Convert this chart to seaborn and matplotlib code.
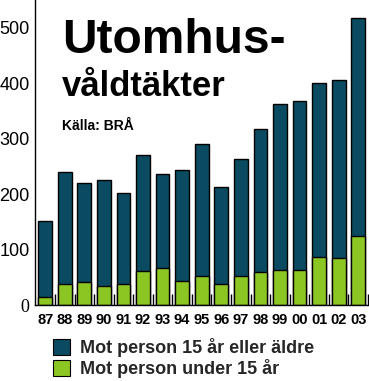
import matplotlib
matplotlib.use("Agg")
import matplotlib.pyplot as plt
from matplotlib.patches import Patch
import seaborn as sns
import pandas as pd
import numpy as np

# data
years = ["87", "88", "89", "90", "91", "92", "93", "94", "95",
         "96", "97", "98", "99", "00", "01", "02", "03"]
total = [151, 239, 220, 226, 202, 271, 237, 244, 290,
         212, 264, 318, 362, 367, 401, 405, 518]
under15 = [14, 37, 41, 35, 37, 61, 66, 44, 52,
           37, 52, 59, 64, 64, 86, 84, 124]
labels = ["Mot person 15 år eller äldre", "Mot person under 15 år"]

dark = "#0b4b61"
green = "#8bc622"

sns.set_theme(style="white")
plt.rcParams['font.family'] = ['Liberation Sans', 'DejaVu Sans']

df = pd.DataFrame({"year": years, "total": total, "under15": under15})

fig = plt.figure(figsize=(3.69, 3.81), dpi=100)
W, H = 369, 381
ax = fig.add_axes([35 / W, 1 - 305 / H, (369 - 35) / W, 305 / H])

sns.barplot(data=df, x="year", y="total", color=dark, saturation=1,
            width=0.7, edgecolor="black", linewidth=1, ax=ax)
sns.barplot(data=df, x="year", y="under15", color=green, saturation=1,
            width=0.7, edgecolor="black", linewidth=1, ax=ax)

ax.set_xlim(-0.52, 16.55)
ax.set_ylim(0, 550)
ax.set_xlabel("")
ax.set_ylabel("")
sns.despine(ax=ax, top=True, right=True)
ax.spines["left"].set_color("black")
ax.spines["bottom"].set_color("black")
ax.spines["left"].set_linewidth(1)
ax.spines["bottom"].set_linewidth(1)

ax.set_yticks([0, 100, 200, 300, 400, 500])
ax.set_yticklabels(["0", "100", "200", "300", "400", "500"])
ax.tick_params(axis="y", length=0, pad=4, labelsize=13, colors="black")
ax.get_yticklabels()[0].set_family(["Liberation Serif", "DejaVu Serif"])

ax.tick_params(axis="x", which="major", length=0, pad=6, labelsize=10.5,
               colors="black")
for t in ax.get_xticklabels():
    t.set_family(["Liberation Sans Narrow", "Liberation Sans", "DejaVu Sans"])
    t.set_fontweight("bold")
ax.set_xticks(np.arange(len(years)) + 0.5, minor=True)
ax.tick_params(axis="x", which="minor", direction="in", length=8,
               width=1, color="black", bottom=True)

fig.text(62 / W, 1 - 53 / H, "Utomhus-", fontsize=34.5, fontweight="bold",
         ha="left", va="baseline", color="black")
fig.text(62 / W, 1 - 96 / H, "våldtäkter", fontsize=25, fontweight="bold",
         ha="left", va="baseline", color="black")
fig.text(62 / W, 1 - 130 / H, "Källa: BRÅ", fontsize=10, fontweight="bold",
         ha="left", va="baseline", color="black")

handles = [Patch(facecolor=dark, edgecolor="black", linewidth=0.8),
           Patch(facecolor=green, edgecolor="black", linewidth=0.8)]
fig.legend(handles, labels, loc="upper left",
           bbox_to_anchor=(53 / W, 1 - 338 / H), frameon=False,
           borderpad=0, borderaxespad=0, handlelength=0.95, handleheight=0.95,
           handletextpad=0.55, labelspacing=0.12,
           prop={"weight": "bold", "size": 13})

fig.savefig("out.png", dpi=100)
